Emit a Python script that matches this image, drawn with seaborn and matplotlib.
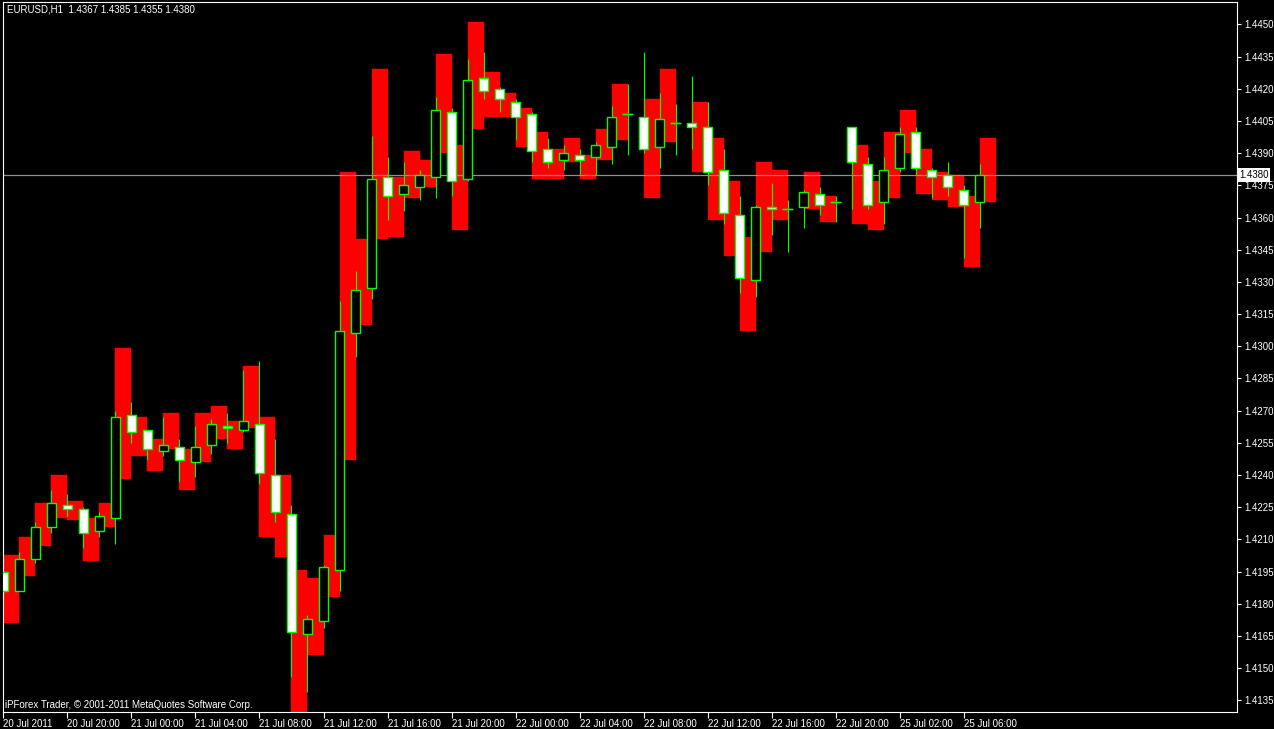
import numpy as np
import pandas as pd
import matplotlib
matplotlib.use("Agg")
import matplotlib.pyplot as plt
import seaborn as sns

# EURUSD H1 candles (bar 0 = 20 Jul 2011 16:00)
symbol = "EURUSD,H1"
last_ohlc = [1.4367, 1.4385, 1.4355, 1.4380]
bid = 1.4380

opens = [1.4195, 1.4186, 1.4201, 1.4216, 1.4226, 1.4224, 1.4214, 1.4220, 1.4268, 1.4261,
         1.4251, 1.4253, 1.4246, 1.4254, 1.4263, 1.4261, 1.4264, 1.4240, 1.4222, 1.4166,
         1.4172, 1.4196, 1.4306, 1.4327, 1.4379, 1.4371, 1.4374, 1.4379, 1.4409, 1.4378,
         1.4425, 1.4420, 1.4414, 1.4408, 1.4392, 1.4387, 1.4389, 1.4388, 1.4393, 1.4408,
         1.4407, 1.4393, 1.4404, 1.4404, 1.4402, 1.4382, 1.4361, 1.4331, 1.4365, 1.4364,
         1.4365, 1.4371, 1.4367, 1.4402, 1.4385, 1.4367, 1.4383, 1.4400, 1.4382, 1.4380,
         1.4373, 1.4367]
highs = [1.4219, 1.4204, 1.4218, 1.4233, 1.4231, 1.4225, 1.4223, 1.4270, 1.4274, 1.4261,
         1.4267, 1.4257, 1.4263, 1.4266, 1.4269, 1.4289, 1.4293, 1.4257, 1.4226, 1.4175,
         1.4198, 1.4321, 1.4335, 1.4398, 1.4388, 1.4386, 1.4382, 1.4416, 1.4411, 1.4434,
         1.4437, 1.4421, 1.4415, 1.4409, 1.4397, 1.4394, 1.4392, 1.4395, 1.4412, 1.4422,
         1.4437, 1.4418, 1.4413, 1.4426, 1.4414, 1.4392, 1.4370, 1.4366, 1.4376, 1.4368,
         1.4373, 1.4374, 1.4370, 1.4402, 1.4388, 1.4388, 1.4402, 1.4402, 1.4383, 1.4386,
         1.4375, 1.4385]
lows = [1.4184, 1.4186, 1.4199, 1.4213, 1.4221, 1.4206, 1.4211, 1.4208, 1.4255, 1.4247,
        1.4249, 1.4237, 1.4239, 1.4250, 1.4255, 1.4260, 1.4236, 1.4218, 1.4146, 1.4139,
        1.4169, 1.4186, 1.4295, 1.4322, 1.4359, 1.4363, 1.4368, 1.4369, 1.4370, 1.4377,
        1.4415, 1.4409, 1.4396, 1.4386, 1.4383, 1.4382, 1.4380, 1.4380, 1.4385, 1.4389,
        1.4390, 1.4383, 1.4389, 1.4392, 1.4375, 1.4357, 1.4325, 1.4323, 1.4352, 1.4344,
        1.4355, 1.4361, 1.4358, 1.4364, 1.4364, 1.4357, 1.4381, 1.4380, 1.4369, 1.4370,
        1.4341, 1.4355]
closes = [1.4186, 1.4201, 1.4216, 1.4227, 1.4224, 1.4213, 1.4221, 1.4267, 1.4260, 1.4252,
          1.4254, 1.4247, 1.4253, 1.4264, 1.4262, 1.4265, 1.4241, 1.4223, 1.4167, 1.4173,
          1.4197, 1.4307, 1.4326, 1.4378, 1.4370, 1.4375, 1.4380, 1.4410, 1.4377, 1.4424,
          1.4419, 1.4415, 1.4407, 1.4391, 1.4386, 1.4390, 1.4387, 1.4394, 1.4407, 1.4408,
          1.4392, 1.4406, 1.4404, 1.4402, 1.4381, 1.4362, 1.4332, 1.4365, 1.4364, 1.4364,
          1.4372, 1.4366, 1.4367, 1.4386, 1.4366, 1.4382, 1.4399, 1.4383, 1.4379, 1.4374,
          1.4366, 1.4380]

# red histogram indicator (drawn between bar k and bar k+1)
nan = np.nan
red_hi = [1.4203, 1.4211, 1.4227, 1.4240, 1.4228, 1.4220, 1.4227, 1.4299, 1.4267, 1.4257,
          1.4269, 1.4252, 1.4269, 1.4272, 1.4265, 1.4291, 1.4267, 1.4240, 1.4196, 1.4192,
          1.4212, 1.4381, 1.4350, 1.4429, 1.4379, 1.4391, 1.4387, 1.4436, 1.4394, 1.4451,
          1.4428, 1.4418, 1.4411, 1.4400, 1.4392, 1.4397, 1.4389, 1.4401, 1.4422, nan,
          1.4415, 1.4429, nan, 1.4414, 1.4397, 1.4377, 1.4351, 1.4386, 1.4382, nan,
          1.4381, 1.4370, nan, 1.4394, 1.4377, 1.4400, 1.4410, 1.4392, 1.4381, 1.4380,
          1.4370, 1.4397]
red_lo = [1.4171, 1.4193, 1.4207, 1.4220, 1.4219, 1.4200, 1.4216, 1.4238, 1.4249, 1.4242,
          1.4252, 1.4233, 1.4246, 1.4257, 1.4252, 1.4262, 1.4211, 1.4202, 1.4128, 1.4156,
          1.4183, 1.4247, 1.4310, 1.4350, 1.4351, 1.4369, 1.4374, 1.4390, 1.4354, 1.4401,
          1.4407, 1.4407, 1.4393, 1.4378, 1.4378, 1.4386, 1.4378, 1.4387, 1.4396, nan,
          1.4369, 1.4395, nan, 1.4381, 1.4359, 1.4342, 1.4307, 1.4344, 1.4359, nan,
          1.4364, 1.4358, nan, 1.4357, 1.4354, 1.4369, 1.4390, 1.4371, 1.4368, 1.4365,
          1.4337, 1.4367]

tick_labels = ["20 Jul 2011", "20 Jul 20:00", "21 Jul 00:00", "21 Jul 04:00",
               "21 Jul 08:00", "21 Jul 12:00", "21 Jul 16:00", "21 Jul 20:00",
               "22 Jul 00:00", "22 Jul 04:00", "22 Jul 08:00", "22 Jul 12:00",
               "22 Jul 16:00", "22 Jul 20:00", "25 Jul 02:00", "25 Jul 06:00"]
tick_every = 4
price_ticks = np.round(np.arange(1.4135, 1.44501, 0.0015), 4)

sns.set_style("dark", {"axes.facecolor": "black", "figure.facecolor": "black",
                       "axes.edgecolor": "white", "text.color": "white",
                       "xtick.color": "white", "ytick.color": "white"})
plt.rcParams["font.family"] = ["Liberation Sans", "DejaVu Sans"]

df = pd.DataFrame({"open": opens, "high": highs, "low": lows, "close": closes,
                   "red_hi": red_hi, "red_lo": red_lo})
df["bar"] = np.arange(len(df))
df["bull"] = df["close"] > df["open"]

fig = plt.figure(figsize=(12.74, 7.29), dpi=100, facecolor="black")
ax = fig.add_axes([3 / 1274, 1 - 712 / 729, 1234 / 1274, 710 / 729])
ax.set_facecolor("black")

red = df.dropna(subset=["red_hi"])
ax.bar(red["bar"] + 0.5, red["red_hi"] - red["red_lo"], bottom=red["red_lo"], width=1.0,
       color="#ff0000", edgecolor="#ff0000", linewidth=0.3, zorder=1)

ax.axhline(bid, color="#8a8f98", lw=0.9, zorder=1.5)

ax.vlines(df["bar"], df["low"], df["high"], color="#00ff00", lw=0.8, zorder=2)

body_lo = np.minimum(df["open"], df["close"])
body_h = (df["close"] - df["open"]).abs()
fills = np.where(df["bull"], "black", "white")
ax.bar(df["bar"], body_h, bottom=body_lo, width=0.6, color=fills,
       edgecolor="#00ff00", linewidth=1.0, zorder=3)
doji = df[df["open"] == df["close"]]
ax.hlines(doji["open"], doji["bar"] - 0.33, doji["bar"] + 0.33, color="#00ff00", lw=1.0, zorder=3)

ax.set_xlim(-0.03, 77.09)
ax.set_ylim(1.412964, 1.446039)

ax.yaxis.tick_right()
ax.set_yticks(price_ticks)
ax.set_yticklabels([f"{p:.4f}" for p in price_ticks])
ax.set_xticks(np.arange(len(tick_labels)) * tick_every)
ax.set_xticklabels(tick_labels, ha="left")
ax.tick_params(axis="y", direction="out", length=3, width=0.8, colors="white",
               labelsize=7, pad=2, right=True, left=False)
ax.tick_params(axis="x", direction="out", length=4, width=0.8, colors="white",
               labelsize=7, pad=1, bottom=True)
ax.grid(False)
for s in ax.spines.values():
    s.set_visible(True)
    s.set_color("white")
    s.set_linewidth(0.8)

ax.text(1.0015, bid, f"{bid:.4f}", transform=ax.get_yaxis_transform(), ha="left", va="center",
        fontsize=7, color="black", clip_on=False, zorder=5,
        bbox=dict(boxstyle="square,pad=0.2", fc="white", ec="none"))

fig.text(7 / 1274, 1 - 10 / 729, f"{symbol}  " + " ".join(f"{v:.4f}" for v in last_ohlc),
         color="white", fontsize=7, va="center", ha="left")
fig.text(5 / 1274, 1 - 705 / 729, "iPForex Trader, © 2001-2011 MetaQuotes Software Corp.",
         color="white", fontsize=7, va="center", ha="left")

fig.savefig("out.png", dpi=100, facecolor="black")
